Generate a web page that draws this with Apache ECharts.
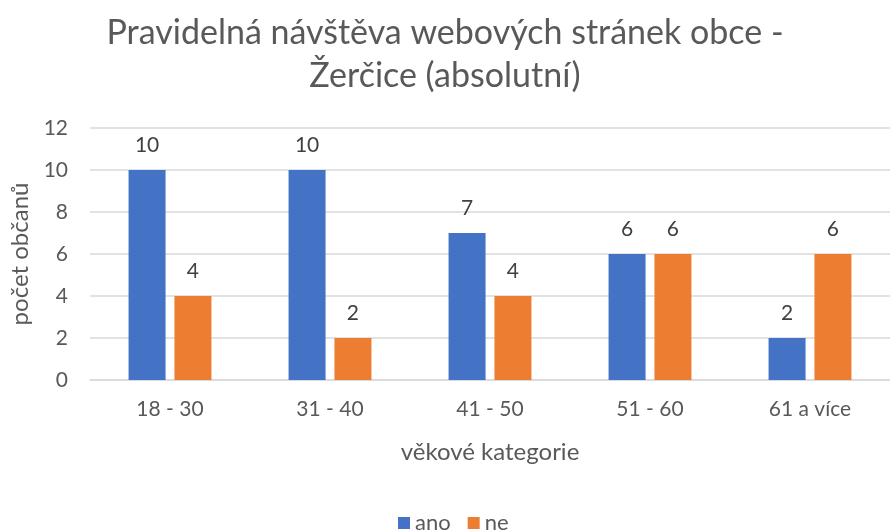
<!DOCTYPE html>
<html>
<head>
<meta charset="utf-8">
<script src="https://cdn.jsdelivr.net/npm/echarts@6/dist/echarts.min.js"></script>
<style>
  html, body { margin: 0; padding: 0; background: #fff; }
  #chart { width: 890px; height: 531px; }
</style>
</head>
<body>
<div id="chart"></div>
<script>
// věkové kategorie a odpovědi
const categories = ["18 - 30", "31 - 40", "41 - 50", "51 - 60", "61 a více"];
const ano = [10, 10, 7, 6, 2];
const ne = [4, 2, 4, 6, 6];
const yTicks = [0, 2, 4, 6, 8, 10, 12];

const font = "Lato, 'Open Sans', sans-serif";
const textColor = "#595959";

const labelStyle = {
  show: true,
  position: "top",
  distance: 14,
  color: "#404040",
  fontSize: 21,
  fontFamily: font,
};

const chart = echarts.init(document.getElementById("chart"));
chart.setOption({
  animation: false,
  textStyle: { fontFamily: font },
  title: {
    text: "Pravidelná návštěva webových stránek obce -\nŽerčice (absolutní)",
    left: "center",
    top: 7,
    textStyle: {
      fontFamily: font,
      fontSize: 34,
      fontWeight: "normal",
      color: textColor,
      lineHeight: 43,
    },
  },
  grid: {
    left: 90,
    top: 128,
    width: 810,
    height: 252,
  },
  legend: {
    top: 507,
    left: 393,
    itemWidth: 12,
    itemHeight: 12,
    itemGap: 17,
    itemTextGap: 7,
    icon: "rect",
    textStyle: { fontSize: 22, color: textColor, fontFamily: font },
    data: ["ano", "ne"],
  },
  xAxis: {
    type: "category",
    data: categories,
    name: "věkové kategorie",
    nameLocation: "middle",
    nameGap: 60,
    nameTextStyle: { fontSize: 24, color: textColor, fontFamily: font },
    axisLine: { show: true, lineStyle: { color: "#d9d9d9", width: 1.5 } },
    axisTick: { show: false },
    axisLabel: { fontSize: 21, color: textColor, margin: 19, fontFamily: font },
  },
  yAxis: {
    type: "value",
    min: yTicks[0],
    max: yTicks[yTicks.length - 1],
    interval: 2,
    name: "počet občanů",
    nameLocation: "middle",
    nameGap: 56,
    nameRotate: 90,
    nameTextStyle: { fontSize: 24, color: textColor, fontFamily: font },
    axisLine: { show: false },
    axisTick: { show: false },
    axisLabel: { fontSize: 21, color: textColor, margin: 22, fontFamily: font },
    splitLine: { lineStyle: { color: "#d9d9d9", width: 1.5 } },
  },
  series: [
    {
      name: "ano",
      type: "bar",
      data: ano,
      barWidth: 37,
      barGap: "24%",
      itemStyle: { color: "#4472C4" },
      label: labelStyle,
    },
    {
      name: "ne",
      type: "bar",
      data: ne,
      barWidth: 37,
      barGap: "24%",
      itemStyle: { color: "#ED7D31" },
      label: labelStyle,
    },
  ],
});
</script>
</body>
</html>
